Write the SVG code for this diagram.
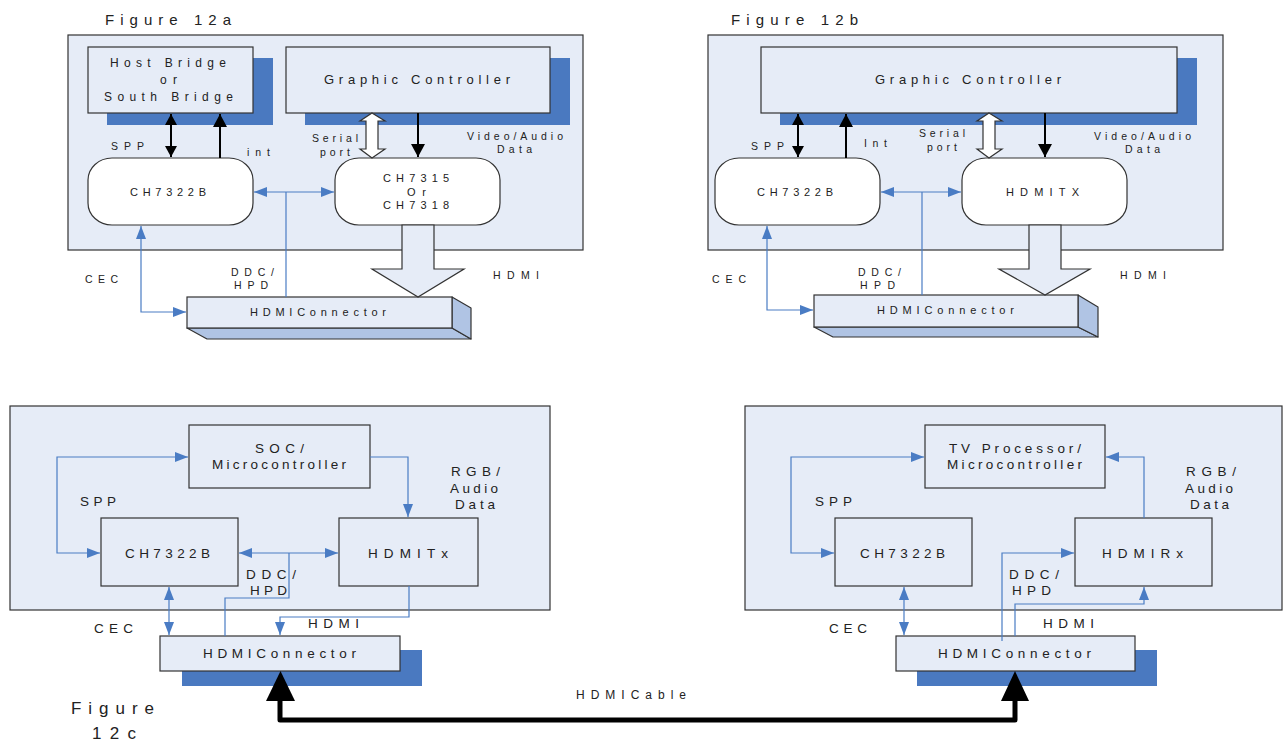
<svg xmlns="http://www.w3.org/2000/svg" width="1284" height="742" viewBox="0 0 1284 742">
<style>
.t{font-family:"Liberation Sans",Arial,sans-serif;fill:#222;}
.s{font-size:10.5px}
.m{font-size:11px}
.l{font-size:13.5px}
.panel{fill:#e6ecf7;stroke:#333;stroke-width:1.2}
.box{fill:#e6ecf7;stroke:#333;stroke-width:1.2}
.pill{fill:#fff;stroke:#333;stroke-width:1.2}
.shadow{fill:#4a79c0}
.side{fill:#b0c4e4;stroke:#333;stroke-width:1.2;stroke-linejoin:round}
.hollow{fill:#e6ecf7;stroke:#333;stroke-width:1.2;stroke-linejoin:miter}
.hw{fill:#fff;stroke:#333;stroke-width:1.2}
.blk{stroke:#000;stroke-width:2;fill:none}
.blu{stroke:#4a7cc4;stroke-width:1.2;fill:none}
.cable{stroke:#000;stroke-width:5;fill:none;stroke-linejoin:round}
</style>
<defs>
<marker id="ab" markerUnits="userSpaceOnUse" markerWidth="14" markerHeight="14" refX="13" refY="7" orient="auto-start-reverse"><path d="M0,0 L13,7 L0,14 z" fill="#000"/></marker>
<marker id="as" markerUnits="userSpaceOnUse" markerWidth="12" markerHeight="12" refX="11" refY="6" orient="auto-start-reverse"><path d="M0,0 L11,6 L0,12 z" fill="#000"/></marker>
<marker id="au" markerUnits="userSpaceOnUse" markerWidth="14" markerHeight="10" refX="13" refY="5" orient="auto-start-reverse"><path d="M0,0 L13,5 L0,10 z" fill="#4a7cc4"/></marker>
</defs>

<!-- Figure 12a -->
<text class="t" x="105" y="25" font-size="15" textLength="126" lengthAdjust="spacing">Figure 12a</text>
<rect class="panel" x="68" y="35" width="515" height="215"/>
<g id="a-host">
<rect class="shadow" x="107" y="58" width="166" height="67"/>
<rect class="box" x="88" y="47" width="165" height="66"/>
<text class="t" x="110" y="67" font-size="12" textLength="116" lengthAdjust="spacing">Host Bridge</text>
<text class="t" x="160" y="84" font-size="12" textLength="17" lengthAdjust="spacing">or</text>
<text class="t" x="104" y="101" font-size="12" textLength="129" lengthAdjust="spacing">South Bridge</text>
</g>
<g id="a-gc">
<rect class="shadow" x="305" y="58" width="265" height="67"/>
<rect class="box" x="286" y="47" width="264" height="66"/>
<text class="t" x="324" y="83.5" font-size="13" textLength="186" lengthAdjust="spacing">Graphic Controller</text>
</g>
<g id="a-ch7322b">
<rect class="pill" x="88" y="158" width="165" height="67" rx="24" ry="22"/>
<text class="t m" x="130" y="196" textLength="76" lengthAdjust="spacing">CH7322B</text>
</g>
<g id="a-ch7315">
<rect class="pill" x="335" y="158" width="165" height="67" rx="24" ry="22"/>
<text class="t m" x="383" y="182" textLength="66" lengthAdjust="spacing">CH7315</text>
<text class="t m" x="407" y="196" textLength="19" lengthAdjust="spacing">Or</text>
<text class="t m" x="383" y="209" textLength="66" lengthAdjust="spacing">CH7318</text>
</g>
<g id="a-conn">
<polygon class="side" points="187,328 207,339 471,339 452,328"/>
<polygon class="side" points="452,297 471,308 471,339 452,328"/>
<rect class="box" x="187" y="297" width="265" height="31"/>
<text class="t m" x="250" y="316" textLength="136" lengthAdjust="spacing">HDMIConnector</text>
</g>
<g id="a-connectors">
<line class="blk" x1="171" y1="114" x2="171" y2="157" marker-start="url(#as)" marker-end="url(#as)"/>
<line class="blk" x1="220" y1="158" x2="220" y2="114" marker-end="url(#ab)"/>
<line class="blk" x1="418" y1="113" x2="418" y2="157" marker-end="url(#ab)"/>
<polygon class="hw" points="372,113 385,121 378,121 378,149 385,149 372,158 360,149 366,149 366,121 360,121"/>
<polygon class="hollow" points="402,225 434,225 434,269 464,269 418,297 372,269 402,269"/>
<line class="blu" x1="254" y1="192" x2="334" y2="192" marker-start="url(#au)" marker-end="url(#au)"/>
<line class="blu" x1="286" y1="192" x2="286" y2="297"/>
<polyline class="blu" points="141,226 141,312 186,312" marker-start="url(#au)" marker-end="url(#au)"/>
</g>
<text class="t s" x="111" y="150" textLength="33" lengthAdjust="spacing">SPP</text>
<text class="t s" x="247" y="156" textLength="23" lengthAdjust="spacing">int</text>
<text class="t s" x="312" y="142" textLength="46" lengthAdjust="spacing">Serial</text>
<text class="t s" x="320" y="156" textLength="30" lengthAdjust="spacing">port</text>
<text class="t s" x="467" y="140" textLength="96" lengthAdjust="spacing">Video/Audio</text>
<text class="t s" x="497" y="153" textLength="35" lengthAdjust="spacing">Data</text>
<text class="t s" x="85" y="283" textLength="33" lengthAdjust="spacing">CEC</text>
<text class="t s" x="231" y="276" textLength="43" lengthAdjust="spacing">DDC/</text>
<text class="t s" x="234" y="289" textLength="34" lengthAdjust="spacing">HPD</text>
<text class="t s" x="493" y="279" textLength="46" lengthAdjust="spacing">HDMI</text>

<!-- Figure 12b -->
<text class="t" x="731" y="25" font-size="15" textLength="127" lengthAdjust="spacing">Figure 12b</text>
<rect class="panel" x="708" y="35" width="515" height="215"/>
<g id="b-gc">
<rect class="shadow" x="780" y="58" width="417" height="67"/>
<rect class="box" x="761" y="47" width="416" height="66"/>
<text class="t" x="875" y="83.5" font-size="13" textLength="186" lengthAdjust="spacing">Graphic Controller</text>
</g>
<g id="b-ch7322b">
<rect class="pill" x="715" y="158" width="165" height="67" rx="24" ry="22"/>
<text class="t m" x="757" y="196" textLength="76" lengthAdjust="spacing">CH7322B</text>
</g>
<g id="b-hdmitx">
<rect class="pill" x="962" y="158" width="165" height="67" rx="24" ry="22"/>
<text class="t m" x="1006" y="196" textLength="73" lengthAdjust="spacing">HDMITX</text>
</g>
<g id="b-conn">
<polygon class="side" points="814,327 833,337 1098,337 1078,327"/>
<polygon class="side" points="1078,295 1098,307 1098,337 1078,327"/>
<rect class="box" x="814" y="295" width="264" height="32"/>
<text class="t m" x="877" y="314" textLength="137" lengthAdjust="spacing">HDMIConnector</text>
</g>
<g id="b-connectors">
<line class="blk" x1="798" y1="114" x2="798" y2="157" marker-start="url(#as)" marker-end="url(#as)"/>
<line class="blk" x1="846" y1="158" x2="846" y2="114" marker-end="url(#ab)"/>
<line class="blk" x1="1045" y1="113" x2="1045" y2="157" marker-end="url(#ab)"/>
<polygon class="hw" points="989,113 1002,121 995,121 995,149 1002,149 989,158 977,149 983,149 983,121 977,121"/>
<polygon class="hollow" points="1029,225 1061,225 1061,269 1090,269 1045,295 999,269 1029,269"/>
<line class="blu" x1="881" y1="192" x2="961" y2="192" marker-start="url(#au)" marker-end="url(#au)"/>
<line class="blu" x1="922" y1="192" x2="922" y2="295"/>
<polyline class="blu" points="767,226 767,310 813,310" marker-start="url(#au)" marker-end="url(#au)"/>
</g>
<text class="t s" x="751" y="150" textLength="33" lengthAdjust="spacing">SPP</text>
<text class="t s" x="864" y="147" textLength="23" lengthAdjust="spacing">Int</text>
<text class="t s" x="919" y="137" textLength="46" lengthAdjust="spacing">Serial</text>
<text class="t s" x="927" y="151" textLength="30" lengthAdjust="spacing">port</text>
<text class="t s" x="1094" y="140" textLength="97" lengthAdjust="spacing">Video/Audio</text>
<text class="t s" x="1125" y="153" textLength="35" lengthAdjust="spacing">Data</text>
<text class="t s" x="712" y="283" textLength="34" lengthAdjust="spacing">CEC</text>
<text class="t s" x="858" y="276" textLength="43" lengthAdjust="spacing">DDC/</text>
<text class="t s" x="860" y="289" textLength="35" lengthAdjust="spacing">HPD</text>
<text class="t s" x="1120" y="279" textLength="46" lengthAdjust="spacing">HDMI</text>

<!-- Figure 12c left -->
<rect class="panel" x="10" y="406" width="540" height="204"/>
<g id="c-soc">
<rect class="box" x="189" y="425" width="181" height="63"/>
<text class="t l" x="255" y="453" textLength="49" lengthAdjust="spacing">SOC/</text>
<text class="t l" x="212" y="469" textLength="134" lengthAdjust="spacing">Microcontroller</text>
</g>
<g id="c-ch7322b">
<rect class="box" x="101" y="518" width="137" height="68"/>
<text class="t l" x="125" y="558" textLength="85" lengthAdjust="spacing">CH7322B</text>
</g>
<g id="c-hdmitx">
<rect class="box" x="339" y="518" width="139" height="68"/>
<text class="t l" x="368" y="558" textLength="80" lengthAdjust="spacing">HDMITx</text>
</g>
<g id="c-conn">
<rect class="shadow" x="182" y="650" width="240" height="36"/>
<rect class="box" x="160" y="636" width="240" height="35"/>
<text class="t l" x="203" y="658" textLength="153" lengthAdjust="spacing">HDMIConnector</text>
</g>

<!-- Figure 12c right -->
<rect class="panel" x="745" y="406" width="537" height="204"/>
<g id="d-tv">
<rect class="box" x="925" y="425" width="180" height="63"/>
<text class="t l" x="949" y="453" textLength="132" lengthAdjust="spacing">TV Processor/</text>
<text class="t l" x="947" y="469" textLength="135" lengthAdjust="spacing">Microcontroller</text>
</g>
<g id="d-ch7322b">
<rect class="box" x="835" y="518" width="137" height="68"/>
<text class="t l" x="860" y="558" textLength="85" lengthAdjust="spacing">CH7322B</text>
</g>
<g id="d-hdmirx">
<rect class="box" x="1075" y="518" width="137" height="68"/>
<text class="t l" x="1102" y="558" textLength="81" lengthAdjust="spacing">HDMIRx</text>
</g>
<g id="d-conn">
<rect class="shadow" x="917" y="650" width="240" height="36"/>
<rect class="box" x="896" y="636" width="239" height="35"/>
<text class="t l" x="938" y="658" textLength="153" lengthAdjust="spacing">HDMIConnector</text>
</g>

<g id="c-connectors">
<polyline class="blu" points="188,457 57,457 57,553 100,553" marker-start="url(#au)" marker-end="url(#au)"/>
<polyline class="blu" points="370,457 408,457 408,517" marker-end="url(#au)"/>
<line class="blu" x1="239" y1="553" x2="338" y2="553" marker-start="url(#au)" marker-end="url(#au)"/>
<polyline class="blu" points="289,553 289,598 225,598 225,636"/>
<polyline class="blu" points="409,586 409,617 280,617 280,635" marker-end="url(#au)"/>
<line class="blu" x1="169" y1="587" x2="169" y2="635" marker-start="url(#au)" marker-end="url(#au)"/>

<polyline class="blu" points="924,457 791,457 791,553 834,553" marker-start="url(#au)" marker-end="url(#au)"/>
<polyline class="blu" points="1144,518 1144,457 1106,457" marker-end="url(#au)"/>
<polyline class="blu" points="1002,641 1002,553 1074,553" marker-end="url(#au)"/>
<polyline class="blu" points="1015,636 1015,604 1144,604 1144,587" marker-end="url(#au)"/>
<line class="blu" x1="904" y1="587" x2="904" y2="635" marker-start="url(#au)" marker-end="url(#au)"/>

<polyline class="cable" points="280,700 280,720 1015,720 1015,700"/>
<polygon points="266,701 295,701 280.5,671" fill="#000"/>
<polygon points="1001,701 1029,701 1015,671" fill="#000"/>
</g>

<text class="t l" x="80" y="506" textLength="36" lengthAdjust="spacing">SPP</text>
<text class="t l" x="451" y="476" textLength="49" lengthAdjust="spacing">RGB/</text>
<text class="t l" x="450" y="493" textLength="48" lengthAdjust="spacing">Audio</text>
<text class="t l" x="455" y="509" textLength="40" lengthAdjust="spacing">Data</text>
<text class="t l" x="246" y="579" textLength="50" lengthAdjust="spacing">DDC/</text>
<text class="t l" x="250" y="595" textLength="37" lengthAdjust="spacing">HPD</text>
<text class="t l" x="94" y="633" textLength="39" lengthAdjust="spacing">CEC</text>
<text class="t l" x="308" y="628" textLength="51" lengthAdjust="spacing">HDMI</text>
<text class="t" x="71" y="714" font-size="17" textLength="83" lengthAdjust="spacing">Figure</text>
<text class="t" x="92" y="739" font-size="17" textLength="44" lengthAdjust="spacing">12c</text>
<text class="t" x="576" y="699" font-size="12" textLength="110" lengthAdjust="spacing">HDMICable</text>

<text class="t l" x="815" y="506" textLength="37" lengthAdjust="spacing">SPP</text>
<text class="t l" x="1186" y="476" textLength="50" lengthAdjust="spacing">RGB/</text>
<text class="t l" x="1185" y="493" textLength="48" lengthAdjust="spacing">Audio</text>
<text class="t l" x="1190" y="509" textLength="39" lengthAdjust="spacing">Data</text>
<text class="t l" x="1009" y="579" textLength="50" lengthAdjust="spacing">DDC/</text>
<text class="t l" x="1012" y="595" textLength="39" lengthAdjust="spacing">HPD</text>
<text class="t l" x="829" y="633" textLength="38" lengthAdjust="spacing">CEC</text>
<text class="t l" x="1043" y="628" textLength="51" lengthAdjust="spacing">HDMI</text>
</svg>
